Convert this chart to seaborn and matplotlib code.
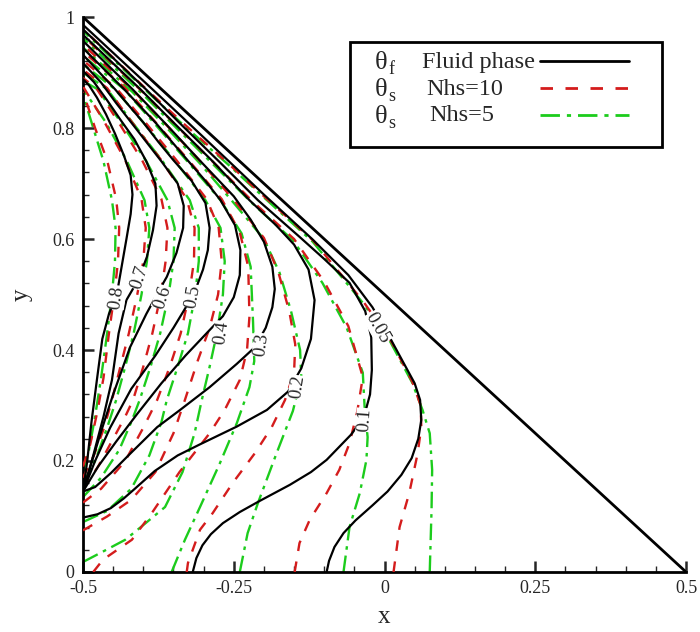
import numpy as np
import pandas as pd
import seaborn as sns
import matplotlib
matplotlib.use("Agg")
import matplotlib.pyplot as plt
from matplotlib.patches import Rectangle

# ---------------- data ----------------
levels = [0.8, 0.7, 0.6, 0.5, 0.4, 0.3, 0.2, 0.1, 0.05]

# fluid phase theta_f contours (x, y)
fluid = {
    0.8: [(-0.5, 0.145), (-0.493, 0.20), (-0.486, 0.27), (-0.477, 0.346), (-0.468, 0.42), (-0.457, 0.465),
          (-0.444, 0.50), (-0.436, 0.55), (-0.428, 0.60), (-0.421, 0.645), (-0.418, 0.68), (-0.421, 0.715),
          (-0.432, 0.75), (-0.447, 0.79), (-0.462, 0.825), (-0.477, 0.855), (-0.49, 0.877), (-0.5, 0.888)],
    0.7: [(-0.5, 0.145), (-0.483, 0.21), (-0.466, 0.28), (-0.452, 0.346), (-0.441, 0.43), (-0.428, 0.49),
          (-0.412, 0.52), (-0.402, 0.545), (-0.394, 0.568), (-0.384, 0.616), (-0.378, 0.66), (-0.38, 0.70),
          (-0.395, 0.74), (-0.415, 0.78), (-0.438, 0.815), (-0.46, 0.85), (-0.482, 0.883), (-0.5, 0.903)],
    0.6: [(-0.5, 0.145), (-0.485, 0.2), (-0.468, 0.26), (-0.45, 0.32), (-0.422, 0.405), (-0.395, 0.465),
          (-0.375, 0.505), (-0.361, 0.532), (-0.345, 0.575), (-0.334, 0.62), (-0.333, 0.66), (-0.343, 0.70),
          (-0.37, 0.74), (-0.395, 0.775), (-0.42, 0.81), (-0.445, 0.845), (-0.47, 0.882), (-0.5, 0.917)],
    0.5: [(-0.5, 0.145), (-0.48, 0.2), (-0.455, 0.26), (-0.42, 0.33), (-0.38, 0.39), (-0.35, 0.44),
          (-0.325, 0.485), (-0.313, 0.51), (-0.301, 0.545), (-0.293, 0.58), (-0.290, 0.62), (-0.297, 0.665),
          (-0.32, 0.705), (-0.35, 0.742), (-0.375, 0.775), (-0.40, 0.81), (-0.447, 0.87), (-0.5, 0.932)],
    0.4: [(-0.5, 0.145), (-0.475, 0.19), (-0.445, 0.235), (-0.41, 0.285), (-0.37, 0.34), (-0.33, 0.39),
          (-0.29, 0.436), (-0.268, 0.461), (-0.25, 0.495), (-0.24, 0.535), (-0.239, 0.58), (-0.248, 0.625),
          (-0.272, 0.67), (-0.298, 0.706), (-0.325, 0.74), (-0.38, 0.81), (-0.432, 0.87), (-0.5, 0.944)],
    0.3: [(-0.5, 0.145), (-0.48, 0.153), (-0.454, 0.178), (-0.421, 0.214), (-0.377, 0.261), (-0.339, 0.292),
          (-0.29, 0.333), (-0.245, 0.375), (-0.215, 0.405), (-0.197, 0.44), (-0.186, 0.477), (-0.182, 0.51),
          (-0.186, 0.55), (-0.2, 0.595), (-0.222, 0.635), (-0.25, 0.677), (-0.305, 0.74), (-0.365, 0.81),
          (-0.418, 0.87), (-0.5, 0.957)],
    0.2: [(-0.5, 0.098), (-0.476, 0.104), (-0.454, 0.115), (-0.433, 0.132), (-0.414, 0.15), (-0.381, 0.182),
          (-0.343, 0.21), (-0.306, 0.23), (-0.245, 0.262), (-0.195, 0.292), (-0.16, 0.325), (-0.138, 0.367),
          (-0.122, 0.42), (-0.116, 0.49), (-0.126, 0.545), (-0.15, 0.59), (-0.18, 0.625), (-0.224, 0.67),
          (-0.285, 0.74), (-0.35, 0.81), (-0.405, 0.87), (-0.5, 0.968)],
    0.1: [(-0.318, 0.0), (-0.312, 0.025), (-0.302, 0.048), (-0.288, 0.068), (-0.268, 0.088), (-0.24, 0.108),
          (-0.207, 0.128), (-0.157, 0.157), (-0.122, 0.18), (-0.096, 0.202), (-0.055, 0.248), (-0.034, 0.28),
          (-0.024, 0.32), (-0.021, 0.364), (-0.022, 0.423), (-0.032, 0.47), (-0.058, 0.521), (-0.1, 0.564),
          (-0.141, 0.604), (-0.21, 0.67), (-0.27, 0.735), (-0.336, 0.805), (-0.393, 0.867), (-0.5, 0.978)],
    0.05: [(-0.096, 0.0), (-0.092, 0.02), (-0.083, 0.045), (-0.068, 0.07), (-0.048, 0.093), (-0.02, 0.12),
           (0.005, 0.145), (0.028, 0.175), (0.045, 0.205), (0.056, 0.24), (0.061, 0.274), (0.059, 0.31),
           (0.05, 0.34), (0.036, 0.368), (0.02, 0.4), (0.005, 0.43), (-0.02, 0.477), (-0.06, 0.535),
           (-0.12, 0.6), (-0.2, 0.68), (-0.258, 0.74), (-0.326, 0.81), (-0.385, 0.87), (-0.5, 0.986)],
}

# solid phase theta_s, Nhs = 10 (red dashed)
solid_nhs10 = {
    0.8: [(-0.5, 0.19), (-0.488, 0.23), (-0.476, 0.29), (-0.466, 0.35), (-0.457, 0.43), (-0.448, 0.5),
          (-0.442, 0.56), (-0.44, 0.62), (-0.445, 0.672), (-0.46, 0.742), (-0.48, 0.80), (-0.5, 0.865)],
    0.7: [(-0.5, 0.17), (-0.482, 0.21), (-0.465, 0.26), (-0.452, 0.31), (-0.438, 0.37), (-0.424, 0.43),
          (-0.41, 0.5), (-0.4, 0.56), (-0.396, 0.62), (-0.403, 0.672), (-0.43, 0.742), (-0.465, 0.812),
          (-0.5, 0.875)],
    0.6: [(-0.5, 0.15), (-0.475, 0.19), (-0.45, 0.24), (-0.43, 0.28), (-0.417, 0.31), (-0.4, 0.37),
          (-0.385, 0.43), (-0.371, 0.5), (-0.363, 0.56), (-0.36, 0.62), (-0.37, 0.672), (-0.402, 0.742),
          (-0.442, 0.812), (-0.478, 0.872), (-0.5, 0.89)],
    0.5: [(-0.5, 0.125), (-0.47, 0.15), (-0.43, 0.2), (-0.4, 0.26), (-0.377, 0.31), (-0.356, 0.37),
          (-0.338, 0.43), (-0.324, 0.5), (-0.316, 0.56), (-0.315, 0.62), (-0.328, 0.672), (-0.37, 0.742),
          (-0.42, 0.812), (-0.46, 0.872), (-0.5, 0.905)],
    0.4: [(-0.5, 0.075), (-0.46, 0.1), (-0.42, 0.13), (-0.38, 0.18), (-0.35, 0.25), (-0.331, 0.31),
          (-0.31, 0.38), (-0.29, 0.44), (-0.276, 0.5), (-0.27, 0.56), (-0.275, 0.62), (-0.295, 0.672),
          (-0.345, 0.742), (-0.398, 0.812), (-0.445, 0.872), (-0.5, 0.922)],
    0.3: [(-0.483, 0.0), (-0.467, 0.022), (-0.419, 0.058), (-0.386, 0.106), (-0.34, 0.18), (-0.29, 0.25),
          (-0.265, 0.292), (-0.24, 0.346), (-0.228, 0.40), (-0.224, 0.46), (-0.226, 0.55), (-0.24, 0.612),
          (-0.27, 0.672), (-0.325, 0.742), (-0.381, 0.812), (-0.43, 0.872), (-0.5, 0.938)],
    0.2: [(-0.328, 0.0), (-0.326, 0.016), (-0.306, 0.076), (-0.285, 0.106), (-0.252, 0.16), (-0.215, 0.214),
          (-0.187, 0.261), (-0.165, 0.31), (-0.15, 0.36), (-0.148, 0.41), (-0.158, 0.47), (-0.176, 0.54),
          (-0.2, 0.602), (-0.248, 0.668), (-0.303, 0.737), (-0.363, 0.807), (-0.416, 0.867), (-0.5, 0.95)],
    0.1: [(-0.149, 0.0), (-0.141, 0.052), (-0.124, 0.094), (-0.096, 0.142), (-0.075, 0.184), (-0.058, 0.232),
          (-0.045, 0.29), (-0.036, 0.351), (-0.06, 0.443), (-0.1, 0.523), (-0.15, 0.6), (-0.218, 0.667),
          (-0.278, 0.732), (-0.343, 0.802), (-0.398, 0.862), (-0.5, 0.966)],
    0.05: [(0.015, 0.0), (0.025, 0.081), (0.041, 0.142), (0.055, 0.214), (0.061, 0.261), (0.06, 0.3),
           (0.046, 0.343), (0.01, 0.418), (-0.035, 0.487), (-0.118, 0.597), (-0.2, 0.677), (-0.26, 0.737),
           (-0.33, 0.805), (-0.39, 0.865), (-0.5, 0.978)],
}

# solid phase theta_s, Nhs = 5 (green dash-dot)
solid_nhs5 = {
    0.8: [(-0.5, 0.18), (-0.49, 0.22), (-0.48, 0.28), (-0.47, 0.35), (-0.46, 0.43), (-0.452, 0.5),
          (-0.447, 0.56), (-0.446, 0.62), (-0.452, 0.67), (-0.466, 0.74), (-0.483, 0.8), (-0.5, 0.86)],
    0.7: [(-0.5, 0.16), (-0.48, 0.2), (-0.46, 0.26), (-0.445, 0.31), (-0.43, 0.37), (-0.416, 0.43),
          (-0.403, 0.5), (-0.394, 0.56), (-0.39, 0.62), (-0.398, 0.67), (-0.427, 0.74), (-0.462, 0.81),
          (-0.5, 0.87)],
    0.6: [(-0.5, 0.135), (-0.47, 0.17), (-0.44, 0.22), (-0.42, 0.27), (-0.406, 0.31), (-0.388, 0.37),
          (-0.372, 0.43), (-0.358, 0.5), (-0.35, 0.56), (-0.348, 0.62), (-0.36, 0.67), (-0.395, 0.74),
          (-0.437, 0.81), (-0.476, 0.87), (-0.5, 0.885)],
    0.5: [(-0.5, 0.09), (-0.46, 0.11), (-0.42, 0.15), (-0.39, 0.21), (-0.37, 0.27), (-0.361, 0.31),
          (-0.343, 0.37), (-0.326, 0.43), (-0.314, 0.5), (-0.308, 0.56), (-0.308, 0.62), (-0.323, 0.67),
          (-0.368, 0.74), (-0.418, 0.81), (-0.46, 0.87), (-0.5, 0.9)],
    0.4: [(-0.5, 0.018), (-0.47, 0.035), (-0.43, 0.058), (-0.404, 0.081), (-0.364, 0.117), (-0.335, 0.18),
          (-0.315, 0.25), (-0.303, 0.31), (-0.29, 0.37), (-0.278, 0.43), (-0.268, 0.5), (-0.265, 0.56),
          (-0.272, 0.62), (-0.297, 0.67), (-0.347, 0.74), (-0.4, 0.81), (-0.447, 0.87), (-0.5, 0.915)],
    0.3: [(-0.353, 0.0), (-0.331, 0.058), (-0.306, 0.117), (-0.273, 0.196), (-0.245, 0.268), (-0.224, 0.333),
          (-0.216, 0.38), (-0.218, 0.45), (-0.222, 0.55), (-0.237, 0.61), (-0.272, 0.67), (-0.327, 0.74),
          (-0.383, 0.81), (-0.432, 0.87), (-0.5, 0.93)],
    0.2: [(-0.24, 0.0), (-0.227, 0.07), (-0.21, 0.124), (-0.179, 0.214), (-0.152, 0.29), (-0.138, 0.35),
          (-0.14, 0.4), (-0.155, 0.47), (-0.174, 0.539), (-0.2, 0.6), (-0.25, 0.665), (-0.305, 0.735),
          (-0.365, 0.805), (-0.418, 0.865), (-0.5, 0.945)],
    0.1: [(-0.068, 0.0), (-0.058, 0.081), (-0.041, 0.142), (-0.03, 0.202), (-0.028, 0.243), (-0.033, 0.297),
          (-0.036, 0.359), (-0.063, 0.441), (-0.103, 0.521), (-0.152, 0.598), (-0.22, 0.665), (-0.28, 0.73),
          (-0.345, 0.8), (-0.4, 0.86), (-0.5, 0.962)],
    0.05: [(0.075, 0.0), (0.078, 0.112), (0.079, 0.184), (0.075, 0.25), (0.063, 0.292), (0.046, 0.341),
           (0.008, 0.418), (-0.036, 0.485), (-0.119, 0.595), (-0.2, 0.675), (-0.26, 0.735), (-0.33, 0.802),
           (-0.39, 0.862), (-0.5, 0.975)],
}

# inline contour label positions (x, y, rotation)
label_text = ["0.8", "0.7", "0.6", "0.5", "0.4", "0.3", "0.2", "0.1", "0.05"]
label_x = [-0.444, -0.406, -0.368, -0.318, -0.270, -0.204, -0.144, -0.033, -0.012]
label_y = [0.495, 0.530, 0.495, 0.497, 0.431, 0.409, 0.333, 0.274, 0.440]
label_rot = [82, 72, 72, 80, 82, 82, 82, 86, -60]

x_ticks = [-0.5, -0.25, 0, 0.25, 0.5]
x_ticklabels = ["-0.5", "-0.25", "0", "0.25", "0.5"]
y_ticks = [0, 0.2, 0.4, 0.6, 0.8, 1]
y_ticklabels = ["0", "0.2", "0.4", "0.6", "0.8", "1"]

legend_symbols = ["θ", "θ", "θ"]
legend_subs = ["f", "s", "s"]
legend_names = ["Fluid phase", "Nhs=10", "Nhs=5"]

# ---------------- plotting ----------------
sns.set_theme(style="white")
plt.rcParams["font.family"] = ["Liberation Serif", "DejaVu Serif"]

fig = plt.figure(figsize=(7.0, 6.32), dpi=100)
ax = fig.add_axes([0.1186, 0.095, 0.8614, 0.878])

GREEN = "#1ccc1c"
RED = "#d41c1c"
DASH_RED = (0, (4.5, 4.5))
DASH_GREEN = (0, (7, 2.5, 1.5, 2.5))

def draw(curves, color, ls, lw, z):
    for lev in levels:
        df = pd.DataFrame(curves[lev], columns=["x", "y"])
        sns.lineplot(data=df, x="x", y="y", sort=False, estimator=None, color=color,
                     linestyle=ls, lw=lw, ax=ax, zorder=z)

draw(solid_nhs5, GREEN, DASH_GREEN, 1.7, 2)
draw(solid_nhs10, RED, DASH_RED, 1.7, 3)
draw(fluid, "black", "-", 1.6, 4)

# hypotenuse of the triangular domain
sns.lineplot(x=[-0.5, 0.5], y=[1.0, 0.0], sort=False, estimator=None, color="black", lw=2.0, ax=ax, zorder=5)

for t, lx, ly, r in zip(label_text, label_x, label_y, label_rot):
    ax.text(lx, ly, t, rotation=r, ha="center", va="center", fontsize=13.5, zorder=6,
            bbox=dict(fc="white", ec="none", pad=0.2))

ax.set_xlim(-0.5, 0.5)
ax.set_ylim(0, 1)
for s in ["top", "right"]:
    ax.spines[s].set_visible(False)
for s in ["left", "bottom"]:
    ax.spines[s].set_linewidth(2.0)
    ax.spines[s].set_color("black")

ax.set_xticks(x_ticks)
ax.set_xticklabels(x_ticklabels)
ax.set_yticks(y_ticks)
ax.set_yticklabels(y_ticklabels)
ax.set_xticks(np.arange(-0.5, 0.5001, 0.05), minor=True)
ax.set_yticks(np.arange(0, 1.0001, 0.04), minor=True)
ax.tick_params(which="major", direction="in", length=8, width=1.8, labelsize=13, pad=6,
               bottom=True, left=True, top=False, right=False)
ax.tick_params(which="minor", direction="in", length=4, width=1.0,
               bottom=True, left=True, top=False, right=False)
ax.set_xlabel("x", fontsize=18, labelpad=6)
ax.set_ylabel("y", fontsize=18, labelpad=14)
ax.grid(False)

# legend box (drawn in axes fraction)
T = ax.transAxes
ax.add_patch(Rectangle((0.4428, 0.766), 0.5174, 0.189, transform=T, fc="white", ec="black",
                       lw=2.0, zorder=10))
row_y = [0.919, 0.870, 0.822]
name_x = [0.562, 0.570, 0.575]
styles = [("black", "-"), (RED, DASH_RED), (GREEN, DASH_GREEN)]
for i in range(3):
    ax.text(0.484, row_y[i] - 0.002, legend_symbols[i], transform=T, fontsize=19, ha="left",
            va="center", zorder=11)
    ax.text(0.5065, row_y[i] - 0.014, legend_subs[i], transform=T, fontsize=13, ha="left",
            va="center", zorder=11)
    ax.text(name_x[i], row_y[i], legend_names[i], transform=T, fontsize=17.5, ha="left",
            va="center", zorder=11)
    ax.plot([0.758, 0.905], [row_y[i] + 0.002, row_y[i] + 0.002], transform=T, color=styles[i][0],
            linestyle=styles[i][1], lw=2.0, zorder=11)

fig.savefig("out.png", dpi=100)
